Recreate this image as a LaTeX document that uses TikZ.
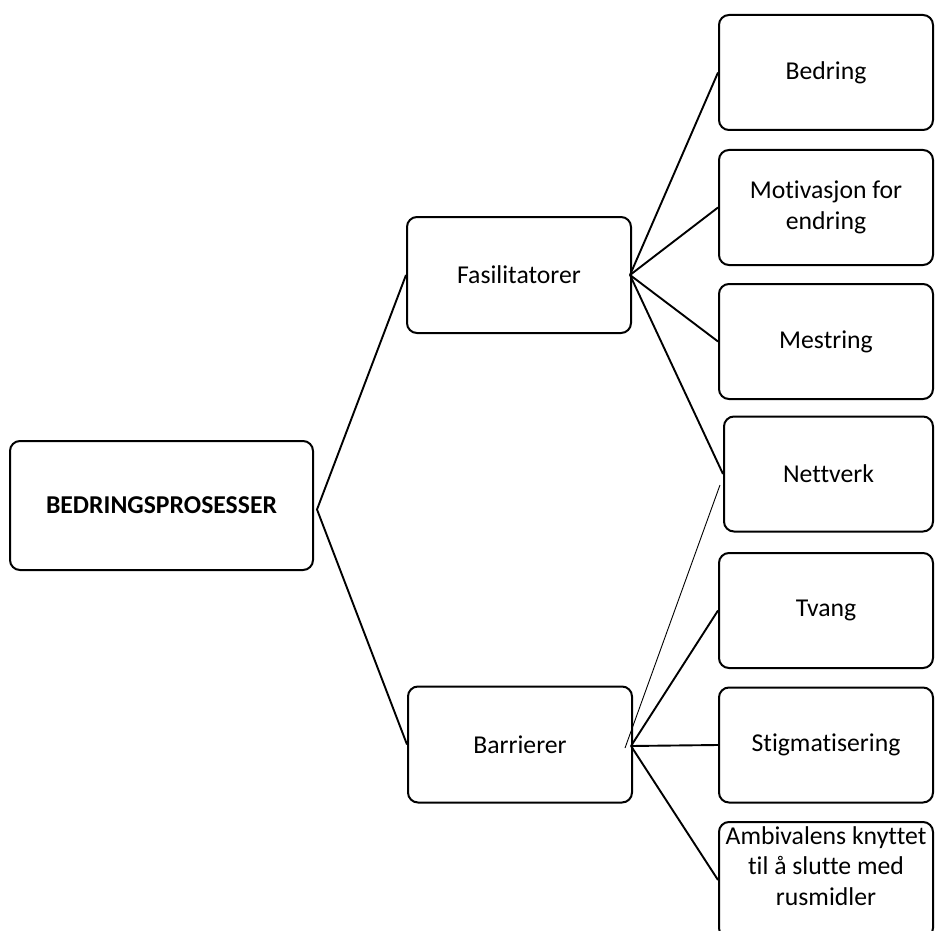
\documentclass[tikz,border=0pt]{standalone}
\usepackage{fontspec}
\setmainfont{Carlito}[Ligatures=NoCommon]
\usetikzlibrary{calc}
\begin{document}
\begin{tikzpicture}[x=1pt,y=-1pt,
  box/.style={draw=black, line width=2pt, rounded corners=10pt, fill=white,
    inner sep=0pt, align=center, font=\fontsize{25.7}{30.5}\selectfont},
  leafbox/.style={box, minimum width=214pt, minimum height=115pt},
  midbox/.style={box, minimum width=224pt, minimum height=116pt},
  link/.style={draw=black, line width=1.9pt},
  thinlink/.style={draw=black, line width=0.9pt}]
\useasboundingbox (0,0) rectangle (935,931);

% root
\node[box, minimum width=303pt, minimum height=129pt, font=\fontsize{25.7}{30.5}\selectfont\bfseries]
  (root) at (161.5,505.5) {BEDRINGSPROSESSER};

% second level
\node[midbox] (fas) at (519,275) {Fasilitatorer};
\node[midbox] (bar) at (520,744.5) {Barrierer};

% facilitators
\node[leafbox] (bed) at (826,72.5) {Bedring};
\node[leafbox] (mot) at (826,207.5) {Motivasjon for\\endring};
\node[leafbox] (mes) at (826,341.5) {Mestring};
\node[leafbox, minimum width=209pt] (net) at (828.5,474) {Nettverk};

% barriers
\node[leafbox] (tva) at (826,610.5) {Tvang};
\node[leafbox] (sti) at (826,745) {Stigmatisering};
\node[leafbox, minimum height=116pt] (amb) at (826,880) {};
\node[align=center, inner sep=0pt, font=\fontsize{25.7}{30.5}\selectfont]
  (ambtext) at (826,866) {Ambivalens knyttet\\til å slutte med\\rusmidler};

% connectors
\coordinate (rootfan) at ($(root.east)+(3,4)$);
\coordinate (fasfan) at ($(fas.east)+(-2,0)$);
\coordinate (barfan) at ($(bar.east)+(-2,1.5)$);
\draw[link] (fas.west) -- (rootfan) -- (bar.west);
\foreach \t in {bed,mot,mes,net} \draw[link] (fasfan) -- (\t.west);
\foreach \t in {tva,sti,amb} \draw[link] (barfan) -- (\t.west);

% stray thin line
\coordinate (thinA) at (625,748);
\coordinate (thinB) at (720,485);
\draw[thinlink] (thinA) -- (thinB);
\end{tikzpicture}
\end{document}
